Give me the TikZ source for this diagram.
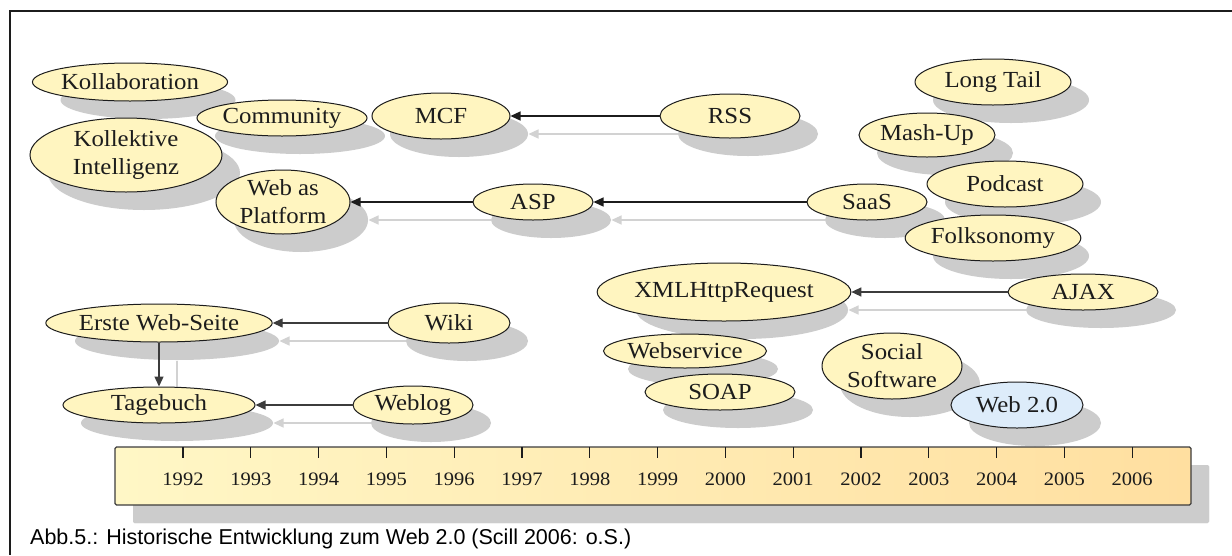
\documentclass[tikz,border=0pt]{standalone}
\usepackage{fontspec}
\newfontfamily\nodefont{Liberation Serif}[FakeStretch=1.08]
\newfontfamily\capfont{Liberation Sans}
\usetikzlibrary{shapes.geometric,arrows.meta}
\definecolor{nodefill}{RGB}{255,245,192}
\definecolor{webfill}{RGB}{221,236,250}
\definecolor{shadc}{RGB}{204,204,204}
\definecolor{shadarr}{RGB}{210,210,210}
\definecolor{barL}{RGB}{255,247,198}
\definecolor{barR}{RGB}{255,223,160}
\definecolor{ink}{RGB}{28,28,28}
\definecolor{ink2}{RGB}{60,60,60}
\newif\ifshad
\newcommand\tx[1]{\ifshad\else#1\fi}
\tikzset{
  bub/.style={ellipse, inner sep=0pt, align=center,
    font=\nodefont\fontsize{23}{28}\selectfont, text=ink,
    fill=nodefill, draw=ink, line width=1pt},
  webbub/.style={bub, fill=webfill},
  arr/.style={draw=ink, line width=1.3pt, -{Triangle[length=10pt,width=9pt]}},
  arrg/.style={arr, draw=ink2},
  year/.style={font=\nodefont\fontsize{19}{22}\selectfont, text=ink, inner sep=0pt},
  timebar/.style={rectangle, draw=ink2, line width=1.3pt, rounded corners=1.5pt,
    left color=barL, right color=barR, minimum width=1076pt, minimum height=58pt, inner sep=0pt},
}
\newcommand\allnodes{%
  \node[bub, minimum width=175pt, minimum height=38pt] (koll) at (130,82) {\tx{Kollaboration}};
  \node[bub, minimum width=170pt, minimum height=36pt] (comm) at (282,118) {\tx{Community}};
  \node[bub, minimum width=192pt, minimum height=74pt] (kint) at (126,155) {\tx{Kollektive\\Intelligenz}};
  \node[bub, minimum width=134pt, minimum height=64pt] (wap) at (283,202) {\tx{Web as\\Platform}};
  \node[bub, minimum width=138pt, minimum height=46pt] (mcf) at (441,116) {\tx{MCF}};
  \node[bub, minimum width=140pt, minimum height=44pt] (rss) at (730,116) {\tx{RSS}};
  \node[bub, minimum width=120pt, minimum height=36pt] (asp) at (533,202) {\tx{ASP}};
  \node[bub, minimum width=120pt, minimum height=36pt] (saas) at (867,202) {\tx{SaaS}};
  \node[bub, minimum width=156pt, minimum height=46pt] (ltail) at (993,82) {\tx{Long Tail}};
  \node[bub, minimum width=136pt, minimum height=44pt] (mash) at (927,135) {\tx{Mash-Up}};
  \node[bub, minimum width=156pt, minimum height=46pt] (pod) at (1005,184) {\tx{Podcast}};
  \node[bub, minimum width=156pt, minimum height=46pt] (folk) at (993,238) {\tx{Folksonomy}};
  \node[bub, minimum width=150pt, minimum height=36pt] (ajax) at (1083,292) {\tx{AJAX}};
  \node[bub, minimum width=212pt, minimum height=58pt] (xml) at (724,292) {\tx{XMLHttpRequest}};
  \node[bub, minimum width=150pt, minimum height=34pt] (wsvc) at (685,351) {\tx{Webservice}};
  \node[bub, minimum width=150pt, minimum height=36pt] (soap) at (720,392) {\tx{SOAP}};
  \node[bub, minimum width=140pt, minimum height=66pt] (social) at (892,366) {\tx{Social\\Software}};
  \node[webbub, minimum width=132pt, minimum height=46pt] (web2) at (1017,405) {\tx{Web 2.0}};
  \node[bub, minimum width=204pt, minimum height=38pt] (erste) at (159,323) {\tx{Erste Web-Seite}};
  \node[bub, minimum width=122pt, minimum height=40pt] (wiki) at (449,323) {\tx{Wiki}};
  \node[bub, minimum width=192pt, minimum height=36pt] (tage) at (159,405) {\tx{Tagebuch}};
  \node[bub, minimum width=120pt, minimum height=38pt] (weblog) at (413,405) {\tx{Weblog}};
  \node[timebar] (bar) at (653,476) {};
}
\newcommand\allarrows{%
  \draw[arr] (rss) -- (mcf);
  \draw[arr] (asp) -- (wap);
  \draw[arr] (saas) -- (asp);
  \draw[arrg] (ajax) -- (xml);
  \draw[arrg] (wiki) -- (erste);
  \draw[arrg] (weblog) -- (tage);
  \draw[arrg] (erste) -- (tage);
}
\begin{document}
\begin{tikzpicture}[x=1pt,y=-1pt]
\useasboundingbox (0,0) rectangle (1232,555);
\fill[white] (0,0) rectangle (1232,555);
% shadows
\begin{scope}[shift={(18,18)},
  bub/.append style={fill=shadc, draw=none},
  webbub/.append style={fill=shadc, draw=none},
  timebar/.append style={fill=shadc, draw=none, left color=shadc, right color=shadc},
  arr/.append style={draw=shadarr, line width=1.2pt},
  arrg/.append style={draw=shadarr, line width=1.2pt}]
  \shadtrue
  \allnodes
  \allarrows
\end{scope}
% real drawing
\allnodes
\allarrows
\foreach \i [evaluate=\i as \xx using {183+67.8*(\i-1992)}] in {1992,...,2006} {
  \draw[ink, line width=1.2pt] (\xx,447) -- (\xx,458);
  \node[year] (y\i) at (\xx,479) {\i};
}
\draw[ink, line width=2pt] (1232,11) -- (10,11) -- (10,555);
\node[anchor=base west, font=\capfont\fontsize{21.5}{25}\selectfont, text=black, inner sep=0pt] (cap) at (30,544)
  {Abb.5.: Historische Entwicklung zum Web 2.0 (Scill 2006: o.S.)};
\end{tikzpicture}
\end{document}
